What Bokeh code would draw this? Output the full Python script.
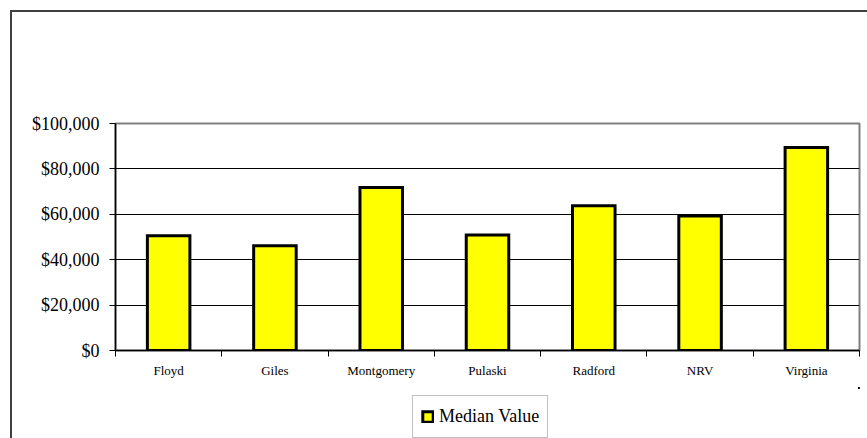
import numpy as np
from bokeh.plotting import figure
from bokeh.layouts import column
from bokeh.models import ColumnDataSource, FixedTicker, NumeralTickFormatter, Legend, LegendItem, Range1d
from bokeh.embed import file_html
from bokeh.resources import INLINE

categories = ["Floyd", "Giles", "Montgomery", "Pulaski", "Radford", "NRV", "Virginia"]
median_value = [50600, 46200, 71800, 50900, 63800, 59200, 89400]
y_ticks = [0, 20000, 40000, 60000, 80000, 100000]
series_name = "Median Value"

xpos = np.arange(len(categories)) + 0.5
src = ColumnDataSource(dict(x=xpos, v=median_value, name=categories))

SERIF = "Liberation Serif"
BAR = dict(fill_color="#FFFF00", line_color="black", line_width=3, line_join="miter")

p = figure(width=855, height=375, output_backend="svg", toolbar_location=None,
           x_range=Range1d(0, len(categories)), y_range=Range1d(0, 100000),
           min_border_left=103, min_border_top=111, min_border_right=8, min_border_bottom=37)

p.vbar(x="x", top="v", width=0.4, bottom=0, source=src, **BAR)

p.outline_line_color = "#808080"
p.outline_line_width = 2
p.background_fill_color = "white"
p.border_fill_color = "white"

# y axis
p.yaxis.ticker = FixedTicker(ticks=y_ticks)
p.yaxis.formatter = NumeralTickFormatter(format="$0,0")
p.yaxis.major_label_text_font = SERIF
p.yaxis.major_label_text_font_size = "18px"
p.yaxis.major_label_text_color = "black"
p.yaxis.axis_line_color = "black"
p.yaxis.axis_line_width = 1.5
p.yaxis.major_tick_out = 6
p.yaxis.major_tick_in = 0
p.yaxis.major_tick_line_color = "black"
p.yaxis.minor_tick_line_color = None
p.yaxis.major_label_standoff = 10

# x axis
p.xaxis.ticker = FixedTicker(ticks=list(xpos), minor_ticks=list(range(len(categories) + 1)))
p.xaxis.major_label_overrides = {float(x): c for x, c in zip(xpos, categories)}
p.xaxis.major_label_text_font = SERIF
p.xaxis.major_label_text_font_size = "13px"
p.xaxis.major_label_text_color = "black"
p.xaxis.axis_line_color = "black"
p.xaxis.axis_line_width = 1.5
p.xaxis.major_tick_line_color = None
p.xaxis.major_tick_out = 0
p.xaxis.major_tick_in = 0
p.xaxis.minor_tick_line_color = "black"
p.xaxis.minor_tick_out = 6
p.xaxis.minor_tick_in = 0
p.xaxis.major_label_standoff = 6

# grid
p.xgrid.grid_line_color = None
p.ygrid.ticker = FixedTicker(ticks=y_ticks[1:-1])
p.ygrid.grid_line_color = "black"
p.ygrid.grid_line_width = 1

# legend strip below the chart (its own small figure so the legend is not clipped)
p2 = figure(width=855, height=51, output_backend="svg", toolbar_location=None,
            x_axis_type=None, y_axis_type=None,
            x_range=Range1d(-3, -2), y_range=Range1d(-2, -1),
            min_border_left=0, min_border_right=0, min_border_top=0, min_border_bottom=0)
p2.outline_line_color = None
p2.background_fill_color = "white"
p2.border_fill_color = "white"
r2 = p2.vbar(x="x", top="v", width=0.4, bottom=0, source=src, **BAR)

legend = Legend(items=[LegendItem(label=series_name, renderers=[r2])],
                location=(297, 0), orientation="vertical",
                label_text_font=SERIF, label_text_font_size="18px",
                label_text_color="black", label_height=25,
                glyph_width=13, glyph_height=13, label_standoff=5,
                padding=8, margin=0, spacing=0,
                border_line_color="#808080", border_line_width=1.5,
                background_fill_color="white", background_fill_alpha=1)
p2.add_layout(legend, "center")

page = column(p, p2, spacing=0)
page.styles = {"border-left": "2px solid #404040", "border-top": "2px solid #404040",
               "margin-left": "10px", "margin-top": "10px"}

open("out.html", "w").write(file_html(page, INLINE))
